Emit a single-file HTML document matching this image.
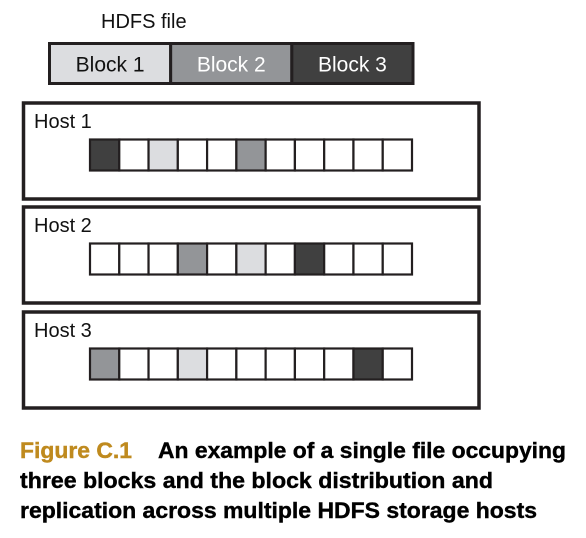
<!DOCTYPE html>
<html><head><meta charset="utf-8"><style>
html,body{margin:0;padding:0;background:#fff;}
svg{display:block;font-family:"Liberation Sans",Arial,sans-serif;}
</style></head><body>
<svg width="586" height="538" viewBox="0 0 586 538">
<text x="101" y="28" font-size="20" fill="#111">HDFS file</text>
<g id="file"></g>
<g id="hosts"></g>
<g font-weight="bold" font-size="22">
<text x="20" y="458" fill="#bf8a1e" stroke="#bf8a1e" stroke-width="0.4" textLength="112" lengthAdjust="spacingAndGlyphs">Figure C.1</text>
<text x="158" y="458" fill="#000" stroke="#000" stroke-width="0.4" textLength="408" lengthAdjust="spacingAndGlyphs">An example of a single file occupying</text>
<text x="20" y="488" fill="#000" stroke="#000" stroke-width="0.4" textLength="473" lengthAdjust="spacingAndGlyphs">three blocks and the block distribution and</text>
<text x="20" y="518" fill="#000" stroke="#000" stroke-width="0.4" textLength="517" lengthAdjust="spacingAndGlyphs">replication across multiple HDFS storage hosts</text>
</g>
</svg>
<script>
const blockNames = ["Block 1","Block 2","Block 3"];
const blockFills = ["#dcdde0","#939598","#404040"];
const blockText = ["#111","#fff","#fff"];
const hostNames = ["Host 1","Host 2","Host 3"];
// 0 = empty, 1/2/3 = block number stored in slot
const host1Slots = [3,0,1,0,0,2,0,0,0,0,0];
const host2Slots = [0,0,0,2,0,1,0,3,0,0,0];
const host3Slots = [2,0,0,1,0,0,0,0,0,3,0];
const hostSlots = [host1Slots, host2Slots, host3Slots];

const NS = "http://www.w3.org/2000/svg";
function mk(tag, attrs, parent){const e=document.createElementNS(NS,tag);for(const k in attrs)e.setAttribute(k,attrs[k]);parent.appendChild(e);return e;}

const file = document.getElementById('file');
const fx0=49.5, fw=(413-49.5)/blockNames.length, fy=43.5, fh=40;
blockNames.forEach((n,i)=>{
  const r=mk('rect',{x:fx0+i*fw,y:fy,width:fw,height:fh,fill:blockFills[i],stroke:'#231f20','stroke-width':3},file);
  
  
  const t=mk('text',{x:fx0+i*fw+fw/2,y:fy+28,'text-anchor':'middle','font-size':21,fill:blockText[i]},file);
  t.textContent=n;
  
  
});

const hosts=document.getElementById('hosts');
const hostTops=[103,207,312];
const cellX0=90, cellW=(412-90)/11, cellH=31;
hostNames.forEach((h,i)=>{
  const y=hostTops[i];
  const box=mk('rect',{x:23.5,y:y,width:455.5,height:96,fill:'none',stroke:'#231f20','stroke-width':3.5},hosts);
  
  
  const t=mk('text',{x:34,y:y+25,'font-size':20,fill:'#111'},hosts);
  t.textContent=h;
  
  
  hostSlots[i].forEach((b,j)=>{
    const c=mk('rect',{x:cellX0+j*cellW,y:y+36.5,width:cellW,height:cellH,fill:b?blockFills[b-1]:'#fff',stroke:'#231f20','stroke-width':2.2},hosts);
    
    
  });
});
</script>
</body></html>
